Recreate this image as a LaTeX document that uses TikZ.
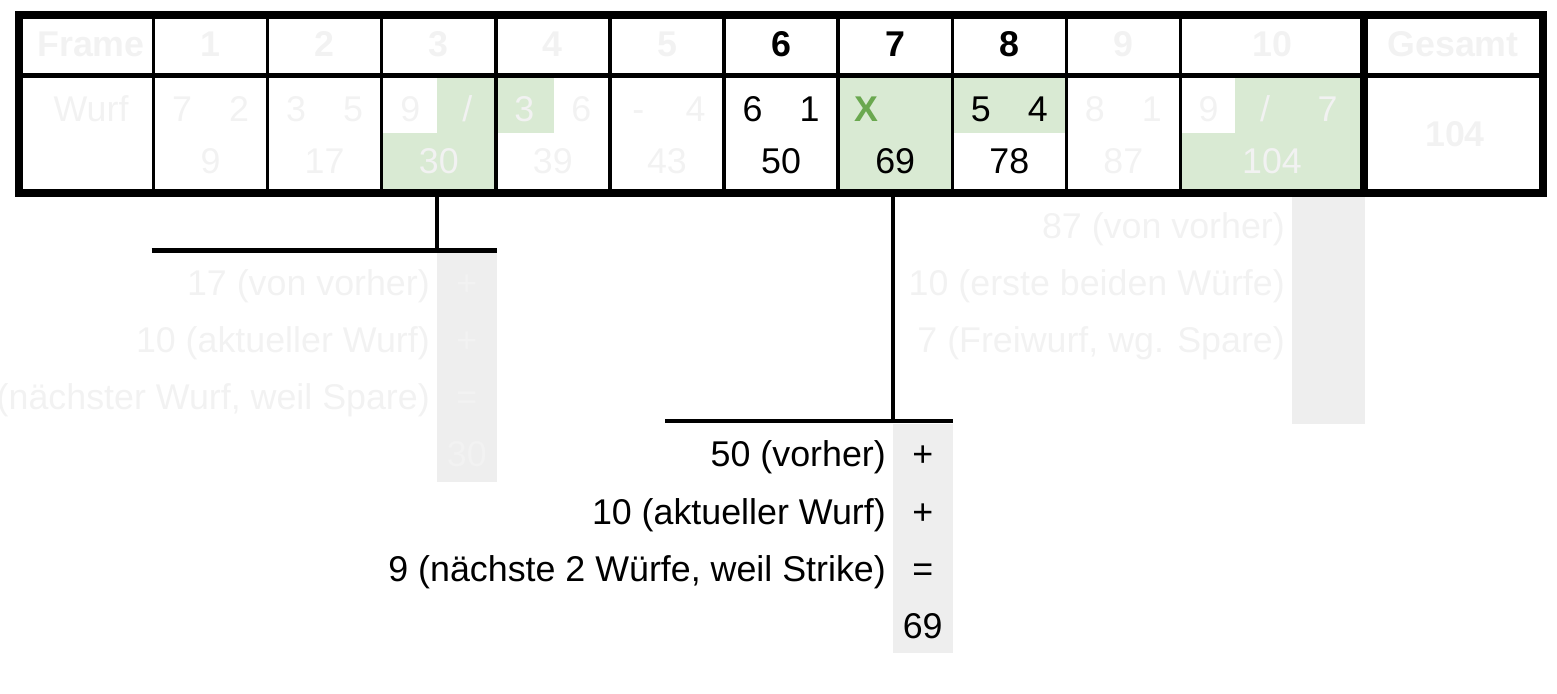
\documentclass[tikz,border=0pt]{standalone}
\usepackage{fontspec}
\setmainfont{Liberation Sans}
\definecolor{fade}{HTML}{F2F2F2}
\definecolor{lightgreen}{HTML}{D9EAD3}
\definecolor{strikegreen}{HTML}{6AA84F}
\definecolor{sumgray}{HTML}{EEEEEE}
\newcommand\sparemark{/}
\begin{document}
\begin{tikzpicture}[x=1pt,y=-1pt]
    \tikzset{
        txt/.style={inner sep=0pt,anchor=base,font=\fontsize{35.8}{40}\selectfont},
        head/.style={txt,font=\fontsize{35.8}{40}\selectfont\bfseries},
        faded/.style={text=fade},
        calc/.style={txt,anchor=base east},
        cellline/.style={line width=3.4pt},
        sumbar/.style={line width=4.4pt},
    }
    \useasboundingbox (0,0) rectangle (1557,693);
    % highlighted cells
    \fill[lightgreen] (437,75.5) rectangle (495.8,133) (381.7,133) rectangle (495.8,192.5);
    \fill[lightgreen] (495.8,75.5) rectangle (554,133);
    \fill[lightgreen] (838.1,75.5) rectangle (952.2,192.5);
    \fill[lightgreen] (952.2,75.5) rectangle (1066.3,133);
    \fill[lightgreen] (1235,75.5) rectangle (1363.8,133) (1180.4,133) rectangle (1363.8,192.5);
    % sum columns
    \fill[sumgray] (437,252.7) rectangle (496.7,481.5);
    \fill[sumgray] (892.7,424.3) rectangle (952.7,653.1);
    \fill[sumgray] (1292.3,195.5) rectangle (1365,424.3);
    % grid
    \foreach \i in {0,...,9}
        \draw[cellline] ({153.5+114.1*\i},15) -- ++(0,177.5);
    \draw[line width=5.6pt] (18.8,75.5) -- (1542.5,75.5);
    \draw[line width=7.7pt] (1363.8,15) -- (1363.8,192.5);
    \draw[line width=8pt] (18.8,15) rectangle (1542.5,192.5);
    \coordinate (tabS) at (0,192.5);
    % header row
    \node[head,faded] (hFrame) at (91,56.7) {Frame};
    \foreach \i/\c in {1/fade,2/fade,3/fade,4/fade,5/fade,6/black,7/black,8/black,9/fade}
        \node[head,text=\c] (h\i) at ({153.5+114.1*(\i-0.5)},56.7) {\i};
    \node[head,faded] (h10) at (1272,56.7) {10};
    \node[head,faded] (hTotal) at (1453,56.7) {Gesamt};
    % throws and scores
    \node[txt,faded] (wurf) at (91,121.7) {Wurf};
    \foreach \i/\a/\b/\s/\c in {1/7/2/9/fade,2/3/5/17/fade,3/9/\sparemark/30/fade,4/3/6/39/fade,
            5/-/4/43/fade,6/6/1/50/black,8/5/4/78/black,9/8/1/87/fade}{
        \node[txt,text=\c] (w\i-1) at ({153.5+114.1*(\i-0.75)},121.7) {\a};
        \node[txt,text=\c] (w\i-2) at ({153.5+114.1*(\i-0.25)},121.7) {\b};
        \node[txt,text=\c] (sum\i) at ({153.5+114.1*(\i-0.5)},173.3) {\s};
    }
    \node[head,text=strikegreen] (w7-1) at (866.6,121.7) {X};
    \node[txt] (sum7) at (895.2,173.3) {69};
    \node[txt,faded] (w10-1) at (1208.5,121.7) {9};
    \node[txt,faded] (w10-2) at (1265,121.7) {\sparemark};
    \node[txt,faded] (w10-3) at (1327.5,121.7) {7};
    \node[txt,faded] (sum10) at (1272,173.3) {104};
    \node[head,faded] (total) at (1455,146.7) {104};
    % frame 3: spare
    \coordinate (barA) at (437.2,250.5);
    \coordinate (barA-l) at (151.7,250.5);
    \coordinate (barA-r) at (496.7,250.5);
    \draw[sumbar] (barA |- tabS) -- (barA);
    \draw[sumbar] (barA-l) -- (barA-r);
    \node[calc,faded] (a1) at (430,295.2) {17 (von vorher)};
    \node[calc,faded] (a2) at (430,352.4) {10 (aktueller Wurf)};
    \node[calc,faded] (a3) at (430,409.6) {(nächster Wurf, weil Spare)};
    \node[txt,faded] (op-a1) at (466.8,295.2) {+};
    \node[txt,faded] (op-a2) at (466.8,352.4) {+};
    \node[txt,faded] (op-a3) at (466.8,409.6) {=};
    \node[txt,faded] (res-a) at (466.8,466.8) {30};
    % frame 7: strike
    \coordinate (barB) at (893,421);
    \coordinate (barB-l) at (665,421);
    \coordinate (barB-r) at (952.7,421);
    \draw[sumbar] (barB |- tabS) -- (barB);
    \draw[sumbar] (barB-l) -- (barB-r);
    \node[calc] (b1) at (886,466.8) {50 (vorher)};
    \node[calc] (b2) at (886,524) {10 (aktueller Wurf)};
    \node[calc] (b3) at (886,581.2) {9 (nächste 2 Würfe, weil Strike)};
    \node[txt] (op-b1) at (922.7,466.8) {+};
    \node[txt] (op-b2) at (922.7,524) {+};
    \node[txt] (op-b3) at (922.7,581.2) {=};
    \node[txt] (res-b) at (922.7,638.4) {69};
    % frame 10
    \node[calc,faded] (c1) at (1285,238) {87 (von vorher)};
    \node[calc,faded] (c2) at (1285,295.2) {10 (erste beiden Würfe)};
    \node[calc,faded] (c3) at (1285,352.4) {7 (Freiwurf, wg. Spare)};
\end{tikzpicture}
\end{document}
